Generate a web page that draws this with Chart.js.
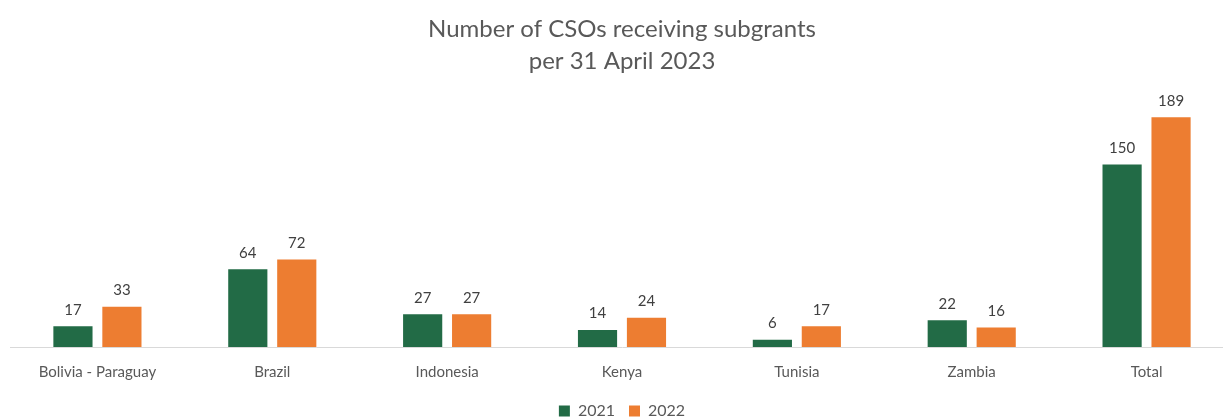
<!DOCTYPE html>
<html>
<head>
<meta charset="utf-8">
<script src="https://cdn.jsdelivr.net/npm/chart.js@4"></script>
<style>
  html, body { margin: 0; padding: 0; background: #fff; overflow: hidden; }
  #wrap { width: 1234px; height: 419px; position: relative; }
</style>
</head>
<body>
<div id="wrap"><canvas id="mainChart"></canvas></div>
<script>
const CATEGORIES = ['Bolivia - Paraguay', 'Brazil', 'Indonesia', 'Kenya', 'Tunisia', 'Zambia', 'Total'];
const SERIES_2021 = [17, 64, 27, 14, 6, 22, 150];
const SERIES_2022 = [33, 72, 27, 24, 17, 16, 189];
const SERIES_NAMES = ['2021', '2022'];
const TITLE_LINES = ['Number of CSOs receiving subgrants', 'per 31 April 2023'];

const GREEN = '#226B46';
const ORANGE = '#ED7D31';
const TEXT = '#595959';
const FONT = 'Lato, "Open Sans", sans-serif';

// simple value labels above each bar
const valueLabels = {
    id: 'valueLabels',
    afterDatasetsDraw(chart) {
        const ctx = chart.ctx;
        ctx.save();
        ctx.font = '15px ' + FONT;
        ctx.fillStyle = '#404040';
        ctx.textAlign = 'center';
        ctx.textBaseline = 'bottom';
        chart.data.datasets.forEach((ds, i) => {
            chart.getDatasetMeta(i).data.forEach((bar, j) => {
                ctx.fillText(ds.data[j], bar.x, bar.y - 9);
            });
        });
        ctx.restore();
    }
};

function createChart() {
    Chart.defaults.font.family = FONT;
    Chart.defaults.color = TEXT;
    const CTX = document.getElementById('mainChart').getContext('2d');
    return new Chart(CTX, {
        type: 'bar',
        data: {
            labels: CATEGORIES,
            datasets: [{
                label: SERIES_NAMES[0],
                data: SERIES_2021,
                backgroundColor: GREEN
            }, {
                label: SERIES_NAMES[1],
                data: SERIES_2022,
                backgroundColor: ORANGE
            }]
        },
        options: {
            responsive: true,
            maintainAspectRatio: false,
            animation: false,
            categoryPercentage: 0.56,
            barPercentage: 0.8,
            layout: {
                padding: { left: 10, right: 0, top: 0, bottom: -10 }
            },
            scales: {
                x: {
                    grid: { display: false },
                    border: { display: true, color: '#D9D9D9', width: 1 },
                    ticks: { font: { size: 15 }, color: TEXT, padding: 8 }
                },
                y: {
                    display: false,
                    min: 0,
                    max: 200
                }
            },
            plugins: {
                title: {
                    display: true,
                    text: TITLE_LINES,
                    color: TEXT,
                    font: { size: 24, weight: 'normal', lineHeight: 1.35 },
                    padding: { top: 13, bottom: 26 }
                },
                legend: {
                    position: 'bottom',
                    labels: {
                        boxWidth: 11,
                        boxHeight: 11,
                        padding: 14,
                        color: TEXT,
                        font: { size: 16 }
                    }
                },
                tooltip: { enabled: false }
            }
        },
        plugins: [valueLabels]
    });
}

createChart();
</script>
</body>
</html>
